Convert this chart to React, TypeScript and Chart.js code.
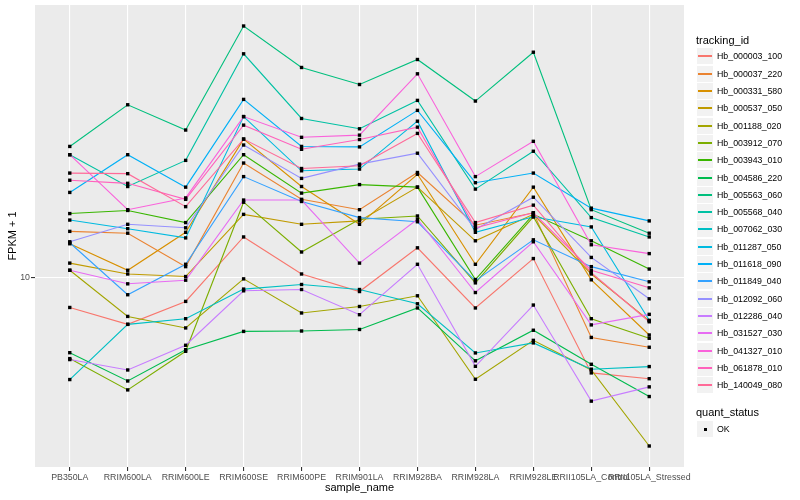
import React, { useEffect, useRef } from "react";
import { Chart, registerables } from "chart.js";

Chart.register(...registerables);

const categories = [
  "PB350LA", "RRIM600LA", "RRIM600LE", "RRIM600SE", "RRIM600PE", "RRIM901LA",
  "RRIM928BA", "RRIM928LA", "RRIM928LE", "RRII105LA_Control", "RRII105LA_Stressed",
];

const trackingIds = [
  "Hb_000003_100", "Hb_000037_220", "Hb_000331_580", "Hb_000537_050", "Hb_001188_020",
  "Hb_003912_070", "Hb_003943_010", "Hb_004586_220", "Hb_005563_060", "Hb_005568_040",
  "Hb_007062_030", "Hb_011287_050", "Hb_011618_090", "Hb_011849_040", "Hb_012092_060",
  "Hb_012286_040", "Hb_031527_030", "Hb_041327_010", "Hb_061878_010", "Hb_140049_080",
];

// FPKM + 1 per sample (order of categories)
const hb000003 = [7.96, 6.99, 8.34, 13.7, 10.3, 9.0, 12.6, 7.93, 11.6, 4.81, 4.6];
const hb000037 = [14.3, 14.1, 10.9, 24.2, 18.3, 16.9, 22.5, 15.0, 16.5, 6.32, 5.86];
const hb000331 = [13.0, 10.6, 14.2, 29.1, 20.2, 15.1, 22.2, 11.1, 20.1, 9.85, 6.44];
const hb000537 = [11.2, 10.3, 10.1, 16.3, 15.1, 15.5, 20.1, 13.3, 16.3, 10.3, 7.19];
const hb001188 = [10.6, 7.43, 6.8, 9.92, 7.63, 8.02, 8.71, 4.58, 6.18, 4.92, 2.74];
const hb003912 = [5.37, 4.22, 5.68, 17.9, 12.2, 15.7, 16.1, 9.62, 16.0, 7.3, 6.28];
const hb003943 = [16.4, 16.8, 15.3, 25.8, 19.2, 20.5, 20.1, 9.87, 16.3, 13.3, 10.7];
const hb004586 = [5.62, 4.52, 5.75, 6.62, 6.64, 6.72, 7.93, 5.28, 6.68, 5.14, 4.01];
const hb005563 = [27.5, 37.9, 31.2, 69.5, 50.5, 44.3, 53.7, 39.0, 56.8, 16.9, 14.1];
const hb005568 = [25.8, 20.2, 24.7, 56.1, 34.1, 31.5, 39.2, 19.8, 26.5, 15.9, 13.7];
const hb007062 = [4.57, 6.99, 7.3, 9.17, 9.5, 9.14, 8.19, 5.61, 6.06, 4.95, 5.05];
const hb011287 = [15.6, 14.6, 13.6, 34.6, 22.8, 23.1, 33.4, 14.2, 16.0, 14.8, 7.21];
const hb011618 = [19.3, 25.8, 20.1, 39.5, 27.5, 27.4, 36.3, 20.8, 22.4, 17.1, 15.5];
const hb011849 = [13.1, 8.78, 11.1, 21.8, 18.0, 15.9, 15.4, 9.77, 13.4, 10.9, 9.7];
const hb012092 = [13.2, 15.1, 14.7, 27.8, 21.5, 24.0, 26.1, 14.5, 18.6, 11.7, 8.51];
const hb012286 = [5.33, 4.92, 5.95, 9.05, 9.14, 7.53, 11.1, 5.06, 8.11, 3.87, 4.32];
const hb031527 = [10.6, 9.55, 9.82, 18.2, 18.2, 11.2, 15.7, 8.93, 13.2, 6.96, 7.55];
const hb041327 = [25.8, 16.9, 18.5, 34.6, 29.5, 30.0, 48.1, 21.8, 28.6, 12.9, 12.05];
const hb061878 = [21.2, 20.7, 18.3, 32.4, 26.9, 29.0, 31.9, 14.7, 16.5, 10.6, 9.26];
const hb140049 = [22.4, 22.3, 17.3, 29.1, 23.2, 23.7, 30.4, 15.3, 17.5, 10.4, 7.13];

const seriesValues = [
  hb000003, hb000037, hb000331, hb000537, hb001188, hb003912, hb003943, hb004586,
  hb005563, hb005568, hb007062, hb011287, hb011618, hb011849, hb012092, hb012286,
  hb031527, hb041327, hb061878, hb140049,
];

const yTicks = [10];

// ggplot2-style hue palette (polar Luv)
function hcl(h: number, c: number, l: number): string {
  const hr = (h * Math.PI) / 180;
  const U = c * Math.cos(hr);
  const V = c * Math.sin(hr);
  const Y = l > 8 ? Math.pow((l + 16) / 116, 3) : l / 903.3;
  const Xn = 0.95047, Yn = 1.0, Zn = 1.08883;
  const un = (4 * Xn) / (Xn + 15 * Yn + 3 * Zn);
  const vn = (9 * Yn) / (Xn + 15 * Yn + 3 * Zn);
  const u = U / (13 * l) + un;
  const v = V / (13 * l) + vn;
  const X = (Y * 9 * u) / (4 * v);
  const Z = (Y * (12 - 3 * u - 20 * v)) / (4 * v);
  const lin = [
    3.240479 * X - 1.53715 * Y - 0.498535 * Z,
    -0.969256 * X + 1.875992 * Y + 0.041556 * Z,
    0.055648 * X - 0.204043 * Y + 1.057311 * Z,
  ];
  const hex = lin
    .map((ch) => {
      let s = ch <= 0.0031308 ? 12.92 * ch : 1.055 * Math.pow(ch, 1 / 2.4) - 0.055;
      s = Math.min(1, Math.max(0, s));
      return Math.round(s * 255).toString(16).padStart(2, "0");
    })
    .join("");
  return "#" + hex.toUpperCase();
}

const colors = trackingIds.map((_, i) => hcl(15 + (360 / trackingIds.length) * i, 100, 65));

const FONT = '"Liberation Sans", Arial, Helvetica, sans-serif';

export default function App() {
  const ref = useRef<HTMLCanvasElement>(null);

  useEffect(() => {
    const all = seriesValues.flat();
    const lmin = Math.log10(Math.min(...all));
    const lmax = Math.log10(Math.max(...all));
    const pad = (lmax - lmin) * 0.05;
    const yMin = Math.pow(10, lmin - pad);
    const yMax = Math.pow(10, lmax + pad);

    const lineSets = seriesValues.map((vals, i) => ({
      label: trackingIds[i],
      data: vals.map((v, j) => ({ x: j, y: v })),
      borderColor: colors[i],
      backgroundColor: colors[i],
      borderWidth: 1.1,
      pointRadius: 0,
      fill: false,
      tension: 0,
      order: 100 - i,
    }));
    const pointSets = seriesValues.map((vals, i) => ({
      label: trackingIds[i] + " pts",
      data: vals.map((v, j) => ({ x: j, y: v })),
      showLine: false,
      pointStyle: "rect" as const,
      pointRadius: 2.4,
      pointBackgroundColor: "#000000",
      pointBorderColor: "#000000",
      pointBorderWidth: 0,
      order: 0,
    }));

    Chart.defaults.font.family = FONT;

    const chart = new Chart(ref.current!, {
      type: "line",
      data: { datasets: [...lineSets, ...pointSets] as any },
      options: {
        responsive: false,
        animation: false,
        events: [],
        layout: { padding: { left: 0, right: 116, top: 5, bottom: 0 } },
        plugins: {
          legend: { display: false },
          tooltip: { enabled: false },
        },
        scales: {
          x: {
            type: "linear",
            min: -0.6,
            max: categories.length - 1 + 0.6,
            afterBuildTicks: (s: any) => {
              s.ticks = categories.map((_, i) => ({ value: i }));
            },
            afterFit: (s: any) => {
              s.height = 33;
              s.paddingLeft = 0;
              s.paddingRight = 0;
            },
            ticks: {
              autoSkip: false,
              maxRotation: 0,
              minRotation: 0,
              padding: 1,
              color: "#4D4D4D",
              font: { size: 8.8, family: FONT },
              callback: (v: any) => categories[v as number] ?? "",
            },
            grid: {
              color: "#FFFFFF",
              lineWidth: 1.1,
              tickColor: "#333333",
              tickLength: 4,
            },
            border: { display: false },
            title: {
              display: true,
              text: "sample_name",
              color: "#000000",
              font: { size: 11, family: FONT },
              padding: { top: 0, bottom: 5 },
            },
          },
          y: {
            type: "logarithmic",
            min: yMin,
            max: yMax,
            afterBuildTicks: (s: any) => {
              s.ticks = yTicks.map((v) => ({ value: v }));
            },
            afterFit: (s: any) => {
              s.width = 35;
              s.paddingTop = 0;
              s.paddingBottom = 0;
            },
            ticks: {
              padding: 1,
              color: "#4D4D4D",
              font: { size: 8.8, family: FONT },
              callback: (v: any) => String(v),
            },
            grid: {
              color: "#FFFFFF",
              lineWidth: 1.1,
              tickColor: "#333333",
              tickLength: 4,
            },
            border: { display: false },
            title: {
              display: true,
              text: "FPKM + 1",
              color: "#000000",
              font: { size: 11, family: FONT },
              padding: { top: 6, bottom: 0 },
            },
          },
        },
      },
      plugins: [
        {
          id: "panelBg",
          beforeDraw(c: any) {
            const { ctx, chartArea } = c;
            ctx.save();
            ctx.fillStyle = "#EBEBEB";
            ctx.fillRect(chartArea.left, chartArea.top, chartArea.right - chartArea.left, chartArea.bottom - chartArea.top);
            ctx.restore();
          },
        },
      ],
    });
    return () => chart.destroy();
  }, []);

  const step = 17.3;
  const keyTop0 = 48.4;

  return (
    <div style={{ position: "absolute", left: 0, top: 0, width: 800, height: 500, background: "#FFFFFF", fontFamily: FONT, color: "#000" }}>
      <canvas ref={ref} width={800} height={500} style={{ position: "absolute", left: 0, top: 0, width: 800, height: 500, display: "block" }} />
      <div style={{ position: "absolute", left: 696, top: 34, fontSize: 11, lineHeight: "13px", whiteSpace: "nowrap" }}>tracking_id</div>
      {trackingIds.map((id, i) => {
        const top = Math.round(keyTop0 + i * step);
        return (
          <React.Fragment key={id}>
            <div
              style={{
                position: "absolute",
                left: 697,
                top,
                width: 16,
                height: 16,
                background: "#F2F2F2",
              }}
            >
              <div style={{ position: "absolute", left: 1, width: 14, top: 7, height: 1.5, background: colors[i] }} />
            </div>
            <div style={{ position: "absolute", left: 717, top, height: 16, lineHeight: "16px", fontSize: 8.8, whiteSpace: "nowrap" }}>
              {id}
            </div>
          </React.Fragment>
        );
      })}
      <div style={{ position: "absolute", left: 696, top: 406, fontSize: 11, lineHeight: "13px", whiteSpace: "nowrap" }}>quant_status</div>
      <div style={{ position: "absolute", left: 697, top: 421, width: 16, height: 16, background: "#F2F2F2" }}>
        <div style={{ position: "absolute", left: 6.5, top: 6.5, width: 3, height: 3, background: "#000" }} />
      </div>
      <div style={{ position: "absolute", left: 717, top: 421, height: 16, lineHeight: "16px", fontSize: 8.8 }}>OK</div>
    </div>
  );
}
